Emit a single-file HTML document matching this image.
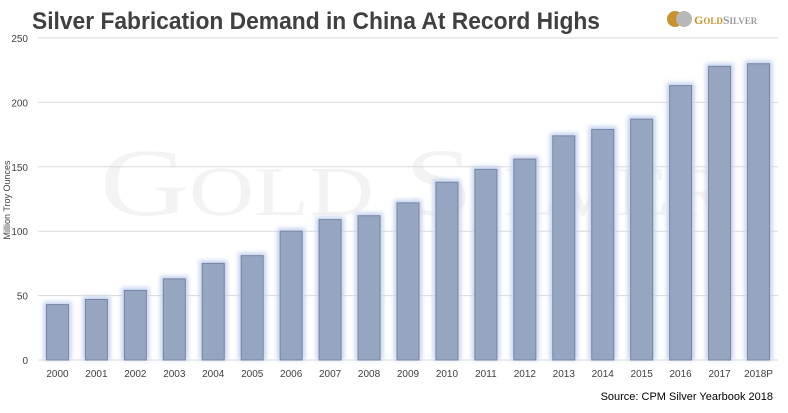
<!DOCTYPE html>
<html><head><meta charset="utf-8"><style>
body{margin:0;background:#fff;width:788px;height:408px;overflow:hidden;font-family:"Liberation Sans",sans-serif}
</style></head><body>
<svg width="788" height="408">
<defs><filter id="glow" x="-50%" y="-50%" width="200%" height="200%"><feGaussianBlur stdDeviation="2"/></filter></defs>
<text x="100" y="215" font-family="Liberation Serif,serif" font-size="96" fill="#f3f3f3" textLength="630" lengthAdjust="spacingAndGlyphs">G<tspan font-size="70">OLD</tspan> S<tspan font-size="70">ILVER</tspan></text>
<text x="32" y="29" font-size="24" font-weight="bold" fill="#404040" textLength="568" lengthAdjust="spacingAndGlyphs">Silver Fabrication Demand in China At Record Highs</text>
<g>
<circle cx="675" cy="19" r="8" fill="#c8922e"/>
<circle cx="684" cy="19" r="8" fill="#b8b8b8"/>
<text x="694" y="24" font-family="Liberation Serif,serif" font-size="12" fill="#c8922e" font-weight="bold">G<tspan font-size="9">OLD</tspan><tspan fill="#999">S<tspan font-size="9">ILVER</tspan></tspan></text>
</g>
<g id="grid"></g><g id="bars"></g><g id="labels"></g>
<text transform="translate(10,200) rotate(-90)" text-anchor="middle" font-size="9" fill="#404040">Million Troy Ounces</text>
<text x="773" y="400" text-anchor="end" font-size="11" fill="#000">Source: CPM Silver Yearbook 2018</text>
</svg>
<script>
const categories=["2000","2001","2002","2003","2004","2005","2006","2007","2008","2009","2010","2011","2012","2013","2014","2015","2016","2017","2018P"];
const values=[43,47,54,63,75,81,100,109,112,122,138,148,156,174,179,187,213,228,230];
const yTicks=[0,50,100,150,200,250];
const NS="http://www.w3.org/2000/svg";
const y0=360,yTop=38,yMax=250,x0=38,x1=778;
const y=v=>y0-(v/yMax)*(y0-yTop);
const step=(x1-x0)/categories.length;
const xc=i=>x0+step*(i+0.5);
function mk(t,a,p){const e=document.createElementNS(NS,t);for(const k in a)e.setAttribute(k,a[k]);p.appendChild(e);return e;}
const g=document.getElementById('grid'),b=document.getElementById('bars'),l=document.getElementById('labels');
yTicks.forEach(t=>{
 const ln=mk('line',{x1:x0,x2:x1,y1:y(t),y2:y(t),stroke:'#d9d9d9','stroke-width':1},g);
 
 
 const tx=mk('text',{x:28,y:y(t)+4,'text-anchor':'end','font-size':10,fill:'#404040'},l);
 tx.textContent=t;
 
 
});
const w=22;
categories.forEach((c,i)=>{
 const v=values[i];
 const gl=mk('rect',{x:xc(i)-w/2-3,y:y(v)-3,width:w+6,height:y0-y(v)+3,fill:'#c5d3ee',filter:'url(#glow)'},b);
 
 
 const r=mk('rect',{x:xc(i)-w/2,y:y(v),width:w,height:y0-y(v),fill:'#97a6c0',stroke:'#7585a5','stroke-width':1},b);
 
 
 const tx=mk('text',{x:xc(i),y:377,'text-anchor':'middle','font-size':10,fill:'#404040'},l);
 tx.textContent=c;
 
 
});
</script>
</body></html>
